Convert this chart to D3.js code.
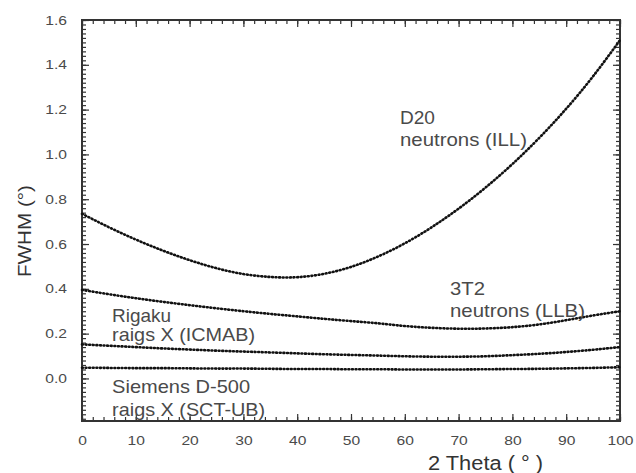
<!DOCTYPE html>
<html>
<head>
<meta charset="utf-8">
<script src="https://cdn.jsdelivr.net/npm/d3@7"></script>
<style>
  body { margin: 0; background: #fff; }
  text { font-family: "Liberation Sans", Arial, sans-serif; }
</style>
</head>
<body>
<div id="chart"></div>
<script>
// 2 Theta values (deg) and the FWHM read for each curve
const twoTheta = [0, 5, 10, 15, 20, 25, 30, 35, 40, 45, 50, 55, 60, 65, 70, 75, 80, 85, 90, 95, 100];
const d20 = [0.735, 0.675, 0.620, 0.571, 0.528, 0.492, 0.466, 0.453, 0.452, 0.467, 0.498, 0.544, 0.603, 0.675, 0.758, 0.852, 0.957, 1.074, 1.204, 1.349, 1.51];
const t3t2 = [0.395, 0.376, 0.358, 0.342, 0.327, 0.313, 0.300, 0.288, 0.277, 0.266, 0.256, 0.246, 0.234, 0.226, 0.222, 0.223, 0.229, 0.241, 0.260, 0.281, 0.300];
const rigaku = [0.152, 0.146, 0.140, 0.134, 0.129, 0.124, 0.120, 0.116, 0.112, 0.108, 0.105, 0.102, 0.099, 0.097, 0.097, 0.099, 0.104, 0.110, 0.118, 0.128, 0.140];
const siemens = [0.048, 0.047, 0.046, 0.046, 0.045, 0.044, 0.044, 0.043, 0.042, 0.042, 0.041, 0.041, 0.040, 0.040, 0.040, 0.041, 0.042, 0.043, 0.045, 0.047, 0.050];
const xTicks = [0, 10, 20, 30, 40, 50, 60, 70, 80, 90, 100];
const yTicks = [0, 0.2, 0.4, 0.6, 0.8, 1.0, 1.2, 1.4, 1.6];

const dim = { width: 636, height: 473, left: 82, right: 620, top: 20, bottom: 421 };

var svg = d3
  .select("#chart")
  .append("svg")
  .attr("width", dim.width)
  .attr("height", dim.height);

var x = d3.scaleLinear().domain([0, 100]).range([dim.left, dim.right]);
var y = d3.scaleLinear().domain([-0.19, 1.6]).range([dim.bottom, dim.top]);

const axisColor = "#333";
const textColor = "#4a4a4a";

// minor ticks, all four sides, pointing inward
const xMinor = d3.range(0, 101, 2);
const yMinor = d3.range(-0.18, 1.601, 0.02);
function styleAxis(g) {
  g.select(".domain").remove();
  g.selectAll("line").attr("stroke", axisColor).attr("stroke-width", 1.2);
}
svg.append("g").attr("transform", "translate(0," + dim.bottom + ")")
  .call(d3.axisBottom(x).tickValues(xMinor).tickSize(-4).tickFormat("")).call(styleAxis);
svg.append("g").attr("transform", "translate(0," + dim.top + ")")
  .call(d3.axisTop(x).tickValues(xMinor).tickSize(-4).tickFormat("")).call(styleAxis);
svg.append("g").attr("transform", "translate(" + dim.left + ",0)")
  .call(d3.axisLeft(y).tickValues(yMinor).tickSize(-4).tickFormat("")).call(styleAxis);
svg.append("g").attr("transform", "translate(" + dim.right + ",0)")
  .call(d3.axisRight(y).tickValues(yMinor).tickSize(-4).tickFormat("")).call(styleAxis);

// major ticks
svg.append("g").attr("transform", "translate(0," + dim.top + ")")
  .call(d3.axisTop(x).tickValues(xTicks).tickSize(-7).tickFormat("")).call(styleAxis);
svg.append("g").attr("transform", "translate(" + dim.right + ",0)")
  .call(d3.axisRight(y).tickValues(yTicks).tickSize(-7).tickFormat("")).call(styleAxis);

var xAxis = svg.append("g").attr("transform", "translate(0," + dim.bottom + ")")
  .call(d3.axisBottom(x).tickValues(xTicks).tickSize(-7).tickPadding(15).tickFormat(d3.format("d")))
  .call(styleAxis);
xAxis.selectAll("text")
  .attr("fill", textColor)
  .style("font-size", "12.5px")
  .attr("transform", "scale(1.25,1)");

var yAxis = svg.append("g").attr("transform", "translate(" + dim.left + ",0)")
  .call(d3.axisLeft(y).tickValues(yTicks).tickSize(-7).tickFormat(d3.format(".1f")))
  .call(styleAxis);
yAxis.selectAll("text")
  .attr("fill", textColor)
  .style("font-size", "12.5px")
  .attr("x", -15 / 1.25)
  .attr("transform", "scale(1.25,1)");

// frame
svg.append("rect")
  .attr("x", dim.left)
  .attr("y", dim.top)
  .attr("width", dim.right - dim.left)
  .attr("height", dim.bottom - dim.top)
  .attr("fill", "none")
  .attr("stroke", axisColor)
  .attr("stroke-width", 2);

// dotted curves
var line = d3.line()
  .x(function (d) { return x(d[0]); })
  .y(function (d) { return y(d[1]); })
  .curve(d3.curveNatural);

[d20, t3t2, rigaku, siemens].forEach(function (series) {
  svg.append("path")
    .datum(twoTheta.map(function (t, i) { return [t, series[i]]; }))
    .attr("d", line)
    .attr("fill", "none")
    .attr("stroke", "#111")
    .attr("stroke-width", 2.6)
    .attr("stroke-linecap", "round")
    .attr("stroke-dasharray", "0.9,2.7");
});

// curve labels, placed in data coordinates
function note(txt, tx, ty, len) {
  svg.append("text")
    .attr("x", x(tx))
    .attr("y", y(ty))
    .attr("textLength", len)
    .attr("lengthAdjust", "spacingAndGlyphs")
    .style("font-size", "18.5px")
    .attr("fill", textColor)
    .text(txt);
}
note("D20", 59.1, 1.135, 35);
note("neutrons (ILL)", 59.1, 1.037, 127);
note("3T2", 68.4, 0.372, 35);
note("neutrons (LLB)", 68.4, 0.274, 135);
note("Rigaku", 5.6, 0.254, 59);
note("raigs X (ICMAB)", 5.6, 0.165, 143);
note("Siemens D-500", 5.6, -0.066, 138);
note("raigs X (SCT-UB)", 5.6, -0.166, 153);

// axis titles
svg.append("text")
  .attr("x", 428)
  .attr("y", 470)
  .attr("textLength", 115)
  .attr("lengthAdjust", "spacingAndGlyphs")
  .style("font-size", "20px")
  .attr("fill", "#333")
  .text("2 Theta ( \u00b0 )");

svg.append("text")
  .attr("transform", "translate(31,277) scale(1.25,1) rotate(-90)")
  .attr("textLength", 92)
  .attr("lengthAdjust", "spacingAndGlyphs")
  .style("font-size", "15px")
  .attr("fill", "#333")
  .text("FWHM (\u00b0)");
</script>
</body>
</html>
